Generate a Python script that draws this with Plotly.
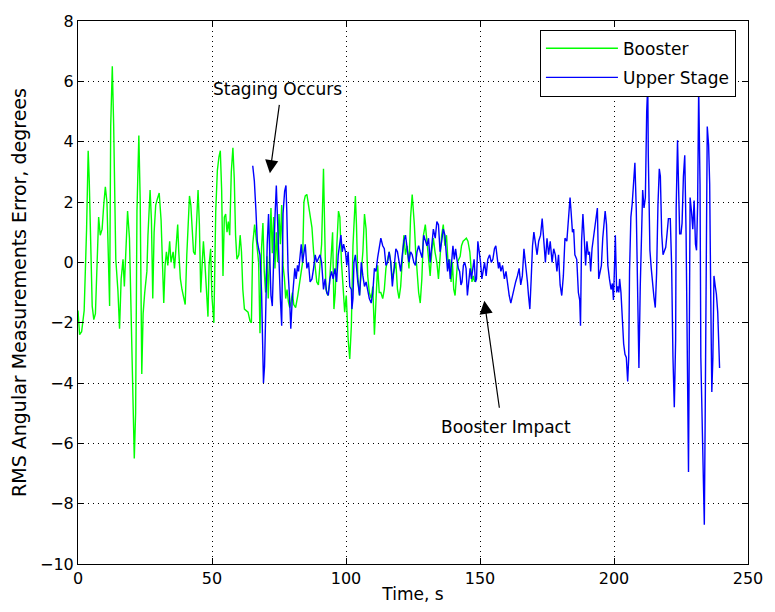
import plotly.graph_objects as go

# Booster channel: time (s) and RMS angular measurement error (deg)
booster_t = [0.0, 0.6, 1.35, 2.3, 3.2, 3.8, 4.2, 4.7, 5.3, 5.9, 6.5, 7.1, 7.7, 8.3, 9.0, 9.6, 10.2, 10.8, 11.4, 11.8,
             12.2, 12.8, 13.3, 13.6, 14.1, 14.9, 15.5, 16.1, 16.8, 17.3, 17.9, 18.5, 19.2, 19.8, 20.5, 21.0, 21.5, 22.0,
             22.7, 23.2, 23.8, 24.3, 24.9, 25.7, 26.1, 26.9, 27.4, 27.9, 28.4, 29.0, 29.6, 30.3, 31.0, 31.5, 32.0, 32.5,
             33.0, 33.5, 34.2, 34.7, 35.5, 36.0, 36.7, 37.2, 37.6, 38.2, 38.8, 39.4, 40.0, 40.6, 41.2, 41.6, 42.1, 42.6,
             43.1, 43.7, 44.3, 44.8, 45.3, 45.8, 46.3, 46.8, 47.4, 48.0, 48.5, 48.9, 49.5, 49.95, 50.7, 51.4, 52.0, 52.6,
             53.1, 53.6, 54.1, 54.6, 55.1, 55.6, 56.1, 56.6, 57.2, 57.8, 58.3, 58.8, 59.3, 60.0, 60.5, 61.0, 61.5, 62.1,
             62.7, 63.45, 64.2, 64.7, 65.2, 65.9, 66.6, 67.4, 67.9, 68.5, 69.0, 69.5, 70.0, 70.5, 71.0, 71.5, 72.0, 72.5,
             73.0, 73.5, 74.0, 74.5, 75.0, 75.5, 76.0, 76.5, 77.0, 77.5, 78.0, 78.5, 79.0, 79.5, 80.0, 80.5, 81.2, 82.0,
             83.0, 83.8, 84.3, 84.8, 85.4, 86.0, 86.6, 87.3, 87.9, 88.5, 89.1, 89.7, 90.3, 90.9, 91.6, 92.0, 92.5, 93.2,
             93.8, 94.5, 95.0, 95.5, 96.0, 96.6, 97.2, 97.7, 98.3, 98.9, 99.5, 100.1, 100.8, 101.4, 102.0, 102.6, 103.5,
             103.9, 104.4, 105.0, 105.7, 106.3, 106.9, 107.5, 108.1, 108.7, 109.4, 110.0, 110.6, 111.2, 111.8, 112.4,
             113.0, 113.7, 114.3, 114.9, 115.5, 116.1, 116.7, 117.3, 117.9, 118.6, 119.2, 119.8, 120.4, 121.0, 121.6,
             122.2, 122.8, 123.5, 124.1, 124.7, 125.0, 125.5, 126.0, 126.5, 127.1, 127.7, 128.3, 128.9, 129.6, 130.2,
             130.8, 131.4, 132.0, 132.6, 133.2, 133.9, 134.5, 135.1, 135.7, 136.3, 136.9, 137.5, 138.2, 138.7, 139.2,
             139.7, 140.2, 140.7, 141.2, 141.6, 142.1, 142.6, 143.1, 143.7, 144.3, 144.9, 145.5, 146.2, 146.6, 147.0,
             147.5, 148.0]
booster_err = [-1.6, -2.4, -2.3, -1.6, 1.1, 3.7, 2.7, 0.8, -1.45, -1.9, -1.7, -0.1, 1.5, 0.9, 1.1, 1.9, 2.5, 2.0, 0.2, -1.45,
               4.5, 6.5, 4.6, 2.1, 0.1, -0.95, -2.2, -0.55, 0.1, -0.8, 0.6, 1.7, 0.8, -1.35, -4.8, -6.5, -5.0, 1.7,
               4.2, 2.1, -3.7, -1.7, -1.0, -0.3, 0.9, 2.4, 1.4, -1.2, 1.0, 1.9, 2.1, 2.3, 1.4, -0.4, -1.35, -0.1,
               0.35, -0.1, 0.7, 0.0, 0.35, -0.2, 0.9, 1.25, 0.35, -0.55, -0.9, -1.2, -1.4, 0.25, 1.5, 2.2, 1.9, 1.0,
               0.35, 0.25, 1.7, 2.4, 1.25, -1.0, -0.1, 0.7, -0.1, -1.2, -1.8, -0.1, 0.45, -1.1, -2.0, 1.7, 3.05, 3.5,
               3.7, 2.4, -0.45, 1.5, 1.6, 1.0, 1.35, 0.9, 3.0, 3.8, 2.8, 0.9, 0.1, 0.25, 0.9, 0.35, -0.9, -1.55,
               -1.6, -1.65, -1.95, -2.0, 0.6, 1.25, 0.7, 0.0, -2.35, 0.5, 1.3, -0.3, -1.0, 0.2, -1.2, 0.4, 1.8, 0.3,
               1.5, -0.2, 1.0, 0.0, 1.6, 0.6, 1.9, -0.1, -0.5, -1.2, -0.9, -1.3, -1.5, -1.3, -1.0, -1.4, -1.5, -1.1,
               -0.5, 0.0, 2.0, 2.2, 2.25, 1.9, 1.7, 1.15, 0.35, -0.3, -0.65, -0.75, 0.0, 0.6, 3.1, 1.7, -0.9, -1.1,
               -0.75, 0.25, 1.0, -1.55, -1.0, 0.6, 1.7, 1.5, 0.0, -0.8, -1.65, -1.1, -2.55, -3.2, -2.1, 0.55, 2.2,
               1.25, -0.45, -1.1, -0.2, 0.35, 1.6, 1.1, -0.45, -1.0, -1.2, -0.8, -2.4, -1.1, -0.1, -1.0,
               -1.0, -1.2, -0.9, -0.2, 0.1, 0.35, 0.0, -0.55, -0.3, 0.0, -0.9, -1.2, -0.8, 0.1, 0.9,
               0.25, 0.55, -0.2, 1.5, 2.25, 1.9, 1.25, 0.35, -0.45, -1.0, -1.35, -0.55, 0.9, 1.25, 0.7,
               0.0, -0.45, 0.35, 0.8, 0.35, 0.0, -0.55, 0.25, 0.9, 1.25, 0.55, 0.9, -0.2, 0.1, -0.65,
               0.0, -0.9, -1.1, -0.35, 0.0, 0.1, 0.2, 0.55, 0.7, 0.75, 0.8, 0.7, 0.35, -0.1, -0.65,
               -0.45, -0.65]

# Upper stage channel
upper_t = [65.2, 65.8, 66.4, 66.9, 67.4, 67.9, 68.5, 68.9, 69.2, 69.6, 70.1, 70.6, 71.1, 71.6, 72.0, 72.5, 73.0, 73.5,
           74.0, 74.5, 75.0, 75.5, 76.0, 76.5, 77.1, 77.6, 77.9, 78.4, 78.9, 79.4, 79.9, 80.4, 80.9, 81.4, 81.9, 82.3,
           82.8, 83.3, 83.8, 84.3, 84.8, 85.4, 86.0, 86.6, 87.3, 87.9, 88.5, 89.1, 89.7, 90.3, 90.9, 91.6, 92.2, 92.8,
           93.4, 94.0, 94.6, 95.2, 95.9, 96.5, 97.1, 97.6, 98.1, 98.6, 99.1, 99.8, 100.3, 100.8, 101.4, 102.0, 102.2,
           102.6, 102.97, 103.5, 103.9, 104.4, 105.1, 105.7, 106.3, 106.9, 107.5, 108.1, 108.7, 109.4, 110.0, 110.6,
           111.2, 111.8, 112.4, 113.0, 113.7, 114.3, 114.9, 115.5, 116.1, 116.7, 117.3, 117.9, 118.6, 119.2, 119.8,
           120.4, 121.0, 121.6, 122.2, 122.8, 123.5, 124.1, 124.7, 125.3, 125.9, 126.5, 127.1, 127.7, 128.4, 129.0,
           129.6, 130.2, 130.8, 131.4, 132.0, 132.6, 133.3, 133.9, 134.5, 135.1, 135.7, 136.3, 136.9, 137.5, 137.9,
           138.4, 138.9, 139.4, 139.9, 140.4, 140.9, 141.4, 141.9, 142.4, 142.9, 143.3, 143.8, 144.3, 144.8, 145.3,
           145.8, 146.3, 146.8, 147.3, 147.8, 148.3, 148.7, 149.2, 149.7, 150.2, 150.7, 151.2, 151.7, 152.3, 152.9,
           153.6, 154.2, 154.8, 155.4, 155.9, 156.4, 156.9, 157.3, 157.8, 158.4, 159.1, 159.7, 160.3, 160.9, 161.5,
           162.1, 162.7, 163.3, 163.97, 164.6, 165.2, 165.8, 166.4, 167.0, 167.7, 168.1, 168.6, 169.1, 169.6, 170.1,
           170.7, 171.3, 171.9, 172.6, 173.2, 173.8, 174.4, 175.0, 175.6, 176.2, 176.9, 177.5, 178.1, 178.7, 179.3,
           179.9, 180.5, 181.1, 181.7, 182.4, 183.0, 183.6, 183.97, 184.5, 184.95, 185.4, 186.1, 186.7, 187.2, 187.5,
           187.9, 188.4, 188.9, 189.4, 189.9, 190.4, 190.85, 191.3, 191.8, 192.3, 192.8, 193.4, 193.8, 194.3, 194.8,
           195.3, 195.8, 196.3, 196.7, 197.2, 197.7, 198.3, 198.9, 199.4, 199.8, 200.2, 200.5, 201.0, 201.4, 201.8,
           202.1, 202.6, 203.1, 203.6, 204.1, 204.6, 205.1, 205.5, 205.8, 206.3, 206.8, 207.3, 207.8, 208.3, 208.8,
           209.3, 209.8, 210.2, 210.7, 211.2, 211.7, 212.2, 212.6, 212.8, 213.4, 213.9, 214.4, 214.9, 215.4, 215.9,
           216.4, 216.9, 217.3, 217.8, 218.3, 218.8, 219.3, 219.8, 220.3, 221.0, 221.5, 222.0, 222.5, 223.0, 223.2,
           223.7, 224.1, 224.5, 225.0, 225.4, 225.9, 226.4, 226.9, 227.4, 227.8, 228.1, 228.4, 228.9, 229.4, 229.9,
           230.4, 230.8, 231.2, 231.6, 232.1, 232.4, 232.9, 233.3, 233.7, 234.0, 234.5, 234.8, 235.3, 235.7, 236.1,
           236.5, 236.9, 237.3, 237.8, 238.2, 238.7, 239.2, 239.4]
upper_err = [3.2, 2.7, 1.7, 0.7, 0.45, 0.25, -1.0, -2.45, -4.0, -3.45, -0.75, 0.6, 1.6, -0.3, -1.1, -1.45, 0.45, 1.5,
             2.55, 1.15, -0.3, -1.2, -2.1, 1.6, 2.35, 2.55, 1.7, -0.3, -1.1, -2.2, -1.3, -0.75, -0.2, -0.55, -0.1, -0.3,
             0.25, 0.6, 0.0, 0.35, 0.6, -0.2, 0.0, -0.65, -0.55, -0.2, 0.25, 0.0, 0.1, 0.25, 0.0, -0.9, -0.55, -1.0,
             -1.1, -0.55, -0.3, -0.55, -0.2, -0.65, 0.25, 0.6, 0.9, 0.35, 0.6, 0.35, -0.1, 0.35, -0.8, -0.9, -1.55,
             -1.2, 0.0, 0.25, -0.2, -0.65, -1.1, 0.0, -0.45, -0.8, -0.65, -1.0, -1.2, -1.35, -1.0, -0.2,
             -0.3, 0.15, 0.45, 0.8, 0.55, 0.45, -0.1, 0.0, 0.35, 0.0, -0.8, -0.3, 0.45, 0.35, 0.0,
             -0.3, 0.25, 0.7, 0.9, 0.45, 0.0, 0.35, 0.25, 0.0, -0.1, 0.35, 0.55, 0.35, 0.15, 0.9,
             0.7, 0.55, 0.8, 0.0, 0.55, 1.1, 0.8, 1.35, 1.25, 0.35, 0.7, 1.1, 0.9, 0.25, -0.3,
             0.1, -0.55, 0.0, 0.55, 0.1, 0.45, 0.1, -0.2, -0.3, -0.75, -0.65, -0.1, 0.0, -0.2, -1.1,
             -0.55, -0.2, -0.55, -0.2, 0.1, -0.65, -0.55, 0.7, 0.35, 0.0, -0.55, -0.3, 0.0, -0.45, 0.1,
             0.25, 0.0, 0.1, 0.45, 0.55, 0.1, -0.2, 0.0, -0.3, -0.1, -0.55, -0.3, -0.75, -1.1, -1.35,
             -1.1, -0.9, -0.65, -0.45, -0.2, -0.75, -0.45, 0.45, 0.0, -0.65, -1.1, -1.55, -0.55, 0.55, 1.0,
             0.55, 0.25, 0.7, 0.9, 1.45, 0.55, 0.0, 0.8, 0.25, 0.7, 0.0, 0.45, 0.25, -0.3, 0.25,
             -0.75, -1.1, -0.45, 0.8, 0.7, 1.55, 2.15, 1.7, 1.0, 1.1, 0.25, 0.1, -1.0, -1.25, -2.1,
             0.7, 1.6, 0.8, -0.1, 0.7, 0.25, 0.35, -0.3, 0.45, 0.8, 1.0, 1.5, 1.8, -0.55, -0.3,
             -0.1, 0.8, 1.25, 1.7, 1.25, -0.1, -0.55, -0.9, -0.7, -1.25, -0.1, 0.9, -1.0, -0.8, -1.0,
             -0.55, -1.0, -1.8, -2.7, -3.05, -3.15, -3.95, -3.15, -0.3, 1.5, 1.95, 2.6, 3.3, 1.8, -0.55,
             -3.5, -0.8, 0.8, 2.4, 1.8, 2.15, 5.0, 5.9, 3.55, 0.4, -0.2, -0.8, -1.15, -1.5, -0.35,
             1.9, 3.1, 2.85, 0.95, 0.25, 0.4, 0.5, 0.95, 1.45, 1.45, -0.1, -3.15, -4.8, -2.55, 1.8,
             4.05, 2.4, 0.95, 0.95, 1.3, 2.85, 3.55, 0.95, -4.2, -6.95, -2.45, 2.15, 1.7, 1.1, 2.05,
             0.6, 0.4, 1.9, 5.8, 2.6, -3.15, -5.4, -6.8, -8.7, -5.4, 1.2, 4.5, 3.9, 2.6, -1.15,
             -4.3, -3.15, -0.45, -0.8, -1.05, -1.65, -2.8, -3.5]

x_ticks = [0, 50, 100, 150, 200, 250]
y_ticks = [-10, -8, -6, -4, -2, 0, 2, 4, 6, 8]

FONT = "DejaVu Sans, Verdana, sans-serif"

fig = go.Figure()
fig.add_trace(go.Scatter(x=booster_t, y=booster_err, mode="lines", name="Booster", legendgroup="b",
                         line=dict(color="#00ff00", width=1.4)))
fig.add_trace(go.Scatter(x=upper_t, y=upper_err, mode="lines", name="Upper Stage", legendgroup="u",
                         line=dict(color="#0000ff", width=1.4)))

axis_common = dict(
    showline=True, linecolor="black", linewidth=1, mirror="ticks",
    ticks="inside", ticklen=6, tickcolor="black",
    showgrid=True, gridcolor="#000000", gridwidth=1, griddash="1px,4px",
    zeroline=False, tickfont=dict(family=FONT, size=16, color="black"),
)

fig.update_xaxes(range=[0, 250], tickvals=x_ticks,
                 title=dict(text="Time, s", font=dict(family=FONT, size=17, color="black"), standoff=0),
                 **axis_common)
fig.update_yaxes(range=[-10, 8], tickvals=y_ticks,
                 title=dict(text="RMS Angular Measurements Error, degrees",
                            font=dict(family=FONT, size=19, color="black"), standoff=8),
                 **axis_common)

# Event callouts: text labels plus arrows pointing at the traces
fig.add_annotation(x=74.4, y=5.76, xref="x", yref="y", text="Staging Occurs", showarrow=False,
                   xanchor="center", yanchor="middle", font=dict(family=FONT, size=17, color="black"))
fig.add_annotation(x=71.6, y=2.95, ax=75.2, ay=5.27, xref="x", yref="y", axref="x", ayref="y",
                   text="", showarrow=True, arrowhead=2, arrowsize=2.2, arrowwidth=1.2, arrowcolor="black")
fig.add_annotation(x=159.8, y=-5.47, xref="x", yref="y", text="Booster Impact", showarrow=False,
                   xanchor="center", yanchor="middle", font=dict(family=FONT, size=17, color="black"))
fig.add_annotation(x=151.6, y=-1.27, ax=157.3, ay=-4.87, xref="x", yref="y", axref="x", ayref="y",
                   text="", showarrow=True, arrowhead=2, arrowsize=2.2, arrowwidth=1.2, arrowcolor="black")

fig.update_layout(
    width=775, height=612,
    margin=dict(l=78, r=18, t=18, b=30),
    paper_bgcolor="white", plot_bgcolor="white",
    font=dict(family=FONT, size=16, color="black"),
    showlegend=True,
    legend=dict(x=0.982, y=0.984, xanchor="right", yanchor="top",
                bgcolor="white", bordercolor="black", borderwidth=1,
                font=dict(family=FONT, size=17, color="black"), itemwidth=72,
                tracegroupgap=4),
)

fig.write_html("out.html")
